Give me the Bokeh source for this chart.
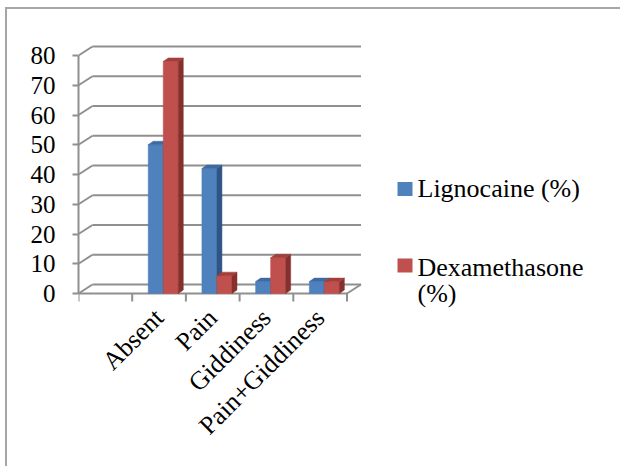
import math
from bokeh.plotting import figure
from bokeh.models import FixedTicker, Range1d, Label
from bokeh.embed import file_html
from bokeh.resources import INLINE

# ---------------- data ----------------
categories = ["Absent", "Pain", "Giddiness", "Pain+Giddiness"]
lignocaine = [50, 42, 4, 4]
dexamethasone = [78, 6, 12, 4]
series_labels = ["Lignocaine (%)", "Dexamethasone\n(%)"]
y_ticks = [0, 10, 20, 30, 40, 50, 60, 70, 80]

# ---------------- layout / style ----------------
OFF_X, OFF_Y = 7, 9          # canvas origin on the page
W, H = 615, 459
ZERO_X, ZERO_Y = 78, 293     # page position of the front axes origin
FRAME_TOP, FRAME_BOTTOM = 40, 312   # page y of the plot frame
ML = ZERO_X - OFF_X
MT = FRAME_TOP - OFF_Y
MB = H - (FRAME_BOTTOM - OFF_Y)
MR = 0
SLOT_PX = 53.7          # width of one category slot
UNIT_PX = 2.975         # pixels per y unit
LEAD = 1                # empty leading category slot
NSLOTS = LEAD + len(categories)
WALL_DX = 14 / SLOT_PX
WALL_DY = 9 / UNIT_PX
TICK_LEN = 8 / UNIT_PX
BAR_W = 0.28
BAR_L = 0.298
BAR_DX = 5 / SLOT_PX
BAR_DY = 3.5 / UNIT_PX
GREY = "#8f8f8f"
FONT = "'Liberation Serif', 'Times New Roman', serif"
front_cols = ["#4F81BD", "#C0504D"]
side_cols = ["#2F5587", "#86302D"]
top_cols = ["#3C6BA3", "#A33E3B"]

frame_w = W - ML - MR


def page_to_data(px, py):
    return (px - ZERO_X) / SLOT_PX, (ZERO_Y - py) / UNIT_PX


p = figure(width=W, height=H, output_backend="svg", toolbar_location=None,
           x_range=Range1d(0, frame_w / SLOT_PX),
           y_range=Range1d(-(FRAME_BOTTOM - ZERO_Y) / UNIT_PX,
                           (ZERO_Y - FRAME_TOP) / UNIT_PX),
           min_border_left=ML, min_border_right=MR, min_border_top=MT,
           min_border_bottom=MB)
p.styles = {"border-top": "2px solid #a6a6a6",
            "border-left": "2px solid #a6a6a6",
            "margin-left": f"{OFF_X - 2}px",
            "margin-top": f"{OFF_Y - 2}px"}
p.outline_line_color = None
p.grid.visible = False
p.background_fill_color = "white"

# back wall gridlines + depth diagonals, floor edges and category ticks
x0d, y0d, x1d, y1d = [], [], [], []
for v in y_ticks:
    x0d.append(0); y0d.append(v); x1d.append(WALL_DX); y1d.append(v + WALL_DY)
    x0d.append(WALL_DX); y0d.append(v + WALL_DY)
    x1d.append(NSLOTS + WALL_DX); y1d.append(v + WALL_DY)
x0d.append(NSLOTS); y0d.append(0); x1d.append(NSLOTS + WALL_DX); y1d.append(WALL_DY)
x0d.append(0); y0d.append(0); x1d.append(NSLOTS); y1d.append(0)
for k in range(NSLOTS + 1):
    x0d.append(k); y0d.append(0); x1d.append(k); y1d.append(-TICK_LEN)
p.segment(x0=x0d, y0=y0d, x1=x1d, y1=y1d, line_color=GREY, line_width=2)

# 3D bars
for s, vals in enumerate([lignocaine, dexamethasone]):
    lefts = [LEAD + i + BAR_L + s * BAR_W for i in range(len(vals))]
    rights = [l + BAR_W for l in lefts]
    p.quad(left=lefts, right=rights, bottom=0, top=vals,
           fill_color=front_cols[s], line_color=front_cols[s], line_width=0.5)
    p.patches(xs=[[r, r + BAR_DX, r + BAR_DX, r] for r in rights],
              ys=[[0, BAR_DY, v + BAR_DY, v] for v in vals],
              fill_color=side_cols[s], line_color=side_cols[s], line_width=0.5)
    p.patches(xs=[[l, l + BAR_DX, r + BAR_DX, r] for l, r in zip(lefts, rights)],
              ys=[[v, v + BAR_DY, v + BAR_DY, v] for v in vals],
              fill_color=top_cols[s], line_color=top_cols[s], line_width=0.5)

# y axis
ya = p.yaxis[0]
ya.ticker = FixedTicker(ticks=y_ticks)
ya.bounds = (0, y_ticks[-1])
ya.axis_line_color = GREY
ya.axis_line_width = 2
ya.major_tick_line_color = GREY
ya.major_tick_line_width = 2
ya.major_tick_out = 6
ya.major_tick_in = 0
ya.minor_tick_line_color = None
ya.major_label_standoff = 17
ya.major_label_text_font = FONT
ya.major_label_text_font_size = "25px"
ya.major_label_text_color = "black"

# x axis: only the rotated category labels (line and ticks drawn at y = 0 above)
xa = p.xaxis[0]
centers = [LEAD + i + 0.5 for i in range(len(categories))]
xa.ticker = FixedTicker(ticks=centers, minor_ticks=[])
xa.major_label_overrides = {c: lab for c, lab in zip(centers, categories)}
xa.axis_line_color = None
xa.major_tick_line_color = None
xa.minor_tick_line_color = None
xa.major_tick_out = 0
xa.major_tick_in = 0
xa.minor_tick_out = 0
xa.minor_tick_in = 0
xa.major_label_orientation = math.pi / 4
xa.major_label_standoff = 1
xa.major_label_text_font = FONT
xa.major_label_text_font_size = "26px"
xa.major_label_text_color = "black"

# legend (drawn manually to match the wrapped label)
sq = [page_to_data(404.5, 188.5), page_to_data(404.5, 265)]
p.rect(x=[q[0] for q in sq], y=[q[1] for q in sq], width=15, height=14,
       width_units="screen", height_units="screen",
       fill_color=front_cols, line_color=None)
tp = [page_to_data(417, 188), page_to_data(417, 280)]
for (tx, ty), lab in zip(tp, series_labels):
    p.add_layout(Label(x=tx, y=ty, text=lab, text_font=FONT,
                       text_font_size="26px", text_color="black",
                       text_baseline="middle", text_align="left",
                       text_line_height=0.87))

open("out.html", "w").write(file_html(p, INLINE))
